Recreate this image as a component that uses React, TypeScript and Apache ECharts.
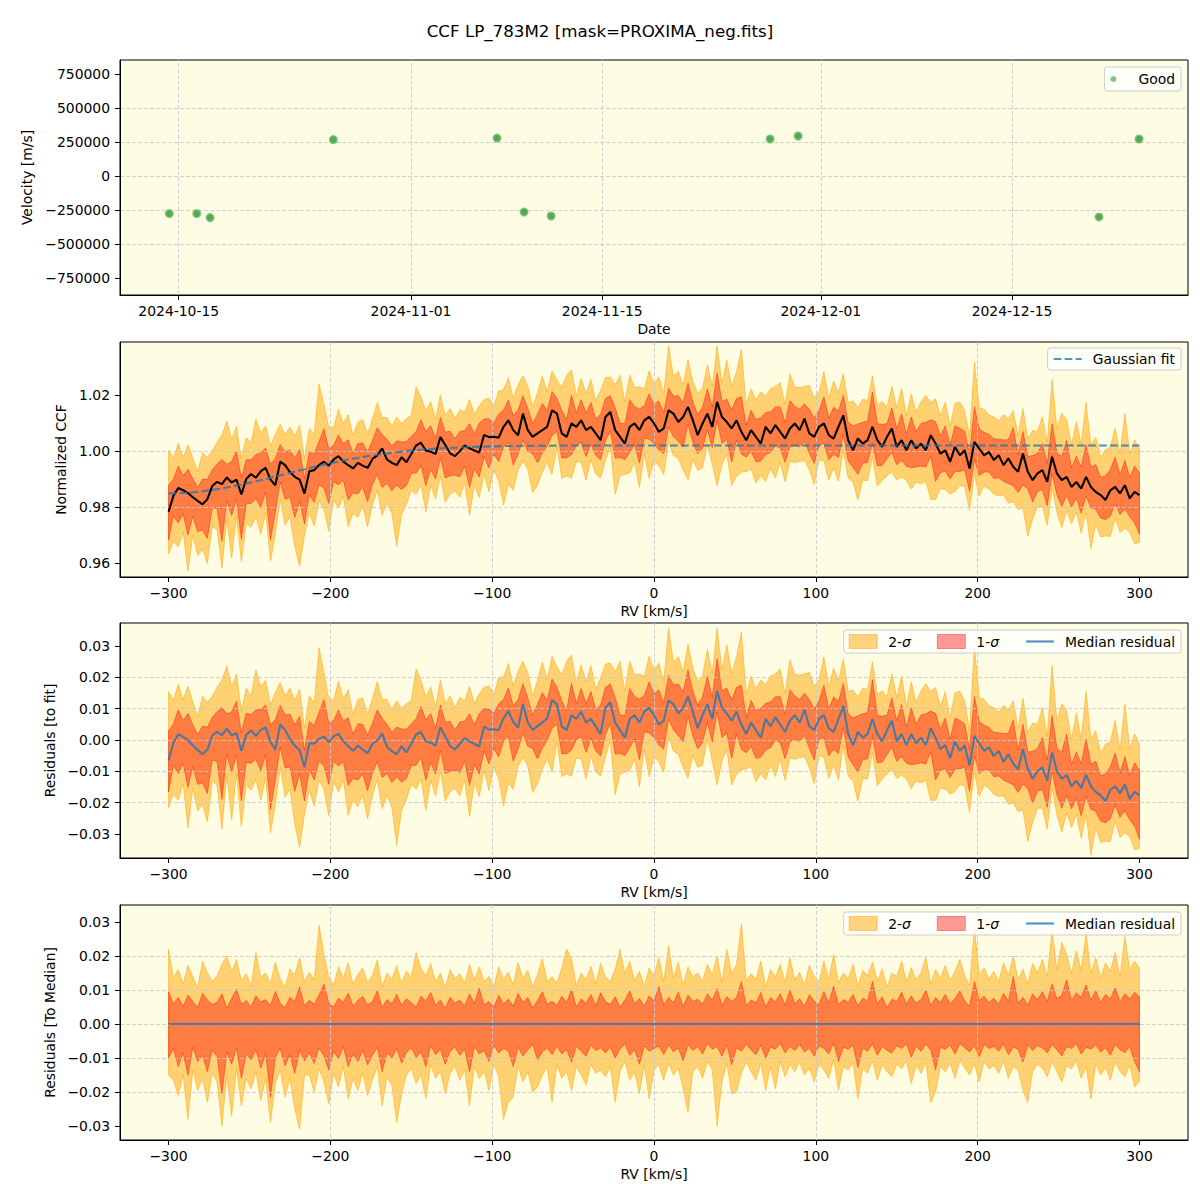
import React, { useEffect, useRef } from 'react';
import * as echarts from 'echarts';

const FONT = '"DejaVu Sans", "Liberation Sans", sans-serif';
const TITLE = 'CCF LP_783M2 [mask=PROXIMA_neg.fits]';

// ---------- Panel 1: velocities ----------
const obsDates = [
  '2024-10-14T07:30:00Z', '2024-10-16T07:40:00Z', '2024-10-17T07:00:00Z', '2024-10-26T07:35:00Z',
  '2024-11-07T07:10:00Z', '2024-11-09T06:45:00Z', '2024-11-11T06:15:00Z', '2024-11-27T07:00:00Z',
  '2024-11-29T08:10:00Z', '2024-12-21T08:50:00Z', '2024-12-24T07:10:00Z',
];
const velocities = [-274000, -274000, -304000, 270000, 281000, -263000, -292000, 274000, 296000, -299000, 274000];
const dateTicks = ['2024-10-15', '2024-11-01', '2024-11-15', '2024-12-01', '2024-12-15'];
const velTicks = [-750000, -500000, -250000, 0, 250000, 500000, 750000];

// ---------- CCF panels (RV grid: -300..300 km/s, 3 km/s step) ----------
const RV_START = -300;
const RV_STEP = 3;
const ccfMedian = [
  0.9783, 0.9840, 0.9868, 0.9860, 0.9850, 0.9835, 0.9822, 0.9810, 0.9828, 0.9875,
  0.9890, 0.9882, 0.9906, 0.9888, 0.9898, 0.9845, 0.9900, 0.9918, 0.9905, 0.9928,
  0.9940, 0.9898, 0.9878, 0.9962, 0.9950, 0.9925, 0.9908, 0.9898, 0.9848, 0.9928,
  0.9932, 0.9950, 0.9962, 0.9948, 0.9970, 0.9982, 0.9962, 0.9950, 0.9938, 0.9958,
  0.9948, 0.9940, 0.9972, 0.9985, 1.0010, 0.9970, 0.9958, 0.9950, 0.9978, 0.9960,
  0.9990, 1.0020, 1.0030, 1.0002, 0.9998, 0.9990, 1.0050, 1.0022, 0.9992, 0.9982,
  1.0000, 1.0020, 1.0010, 1.0002, 0.9995, 1.0058, 1.0050, 1.0051, 1.0048, 1.0087,
  1.0110, 1.0075, 1.0057, 1.0134, 1.0075, 1.0051, 1.0063, 1.0075, 1.0087, 1.0146,
  1.0134, 1.0063, 1.0051, 1.0099, 1.0087, 1.0110, 1.0075, 1.0087, 1.0063, 1.0039,
  1.0122, 1.0140, 1.0075, 1.0051, 1.0027, 1.0087, 1.0099, 1.0075, 1.0110, 1.0122,
  1.0099, 1.0069, 1.0081, 1.0146, 1.0134, 1.0104, 1.0122, 1.0158, 1.0110, 1.0057,
  1.0099, 1.0134, 1.0087, 1.0176, 1.0122, 1.0104, 1.0081, 1.0110, 1.0069, 1.0039,
  1.0075, 1.0051, 1.0027, 1.0087, 1.0063, 1.0093, 1.0069, 1.0045, 1.0081, 1.0099,
  1.0075, 1.0116, 1.0063, 1.0051, 1.0087, 1.0099, 1.0057, 1.0045, 1.0087, 1.0128,
  1.0039, 1.0003, 1.0045, 1.0027, 1.0039, 1.0087, 1.0039, 1.0015, 1.0051, 1.0081,
  1.0015, 1.0039, 1.0003, 1.0039, 1.0009, 1.0027, 1.0003, 1.0057, 1.0027, 0.9991,
  1.0003, 0.9962, 1.0015, 0.9985, 1.0003, 0.9938, 1.0033, 1.0009, 0.9985, 0.9997,
  0.9968, 0.9985, 0.9950, 0.9974, 0.9944, 0.9926, 0.9991, 0.9926, 0.9896, 0.9920,
  0.9932, 0.9890, 0.9980, 0.9920, 0.9896, 0.9908, 0.9872, 0.9890, 0.9866, 0.9908,
  0.9872, 0.9854, 0.9843, 0.9825, 0.9860, 0.9872, 0.9849, 0.9878, 0.9831, 0.9854,
  0.9843,
];
const gaussFit = [
  0.9849, 0.9849, 0.9850, 0.9850, 0.9851, 0.9853, 0.9854, 0.9856, 0.9859, 0.9861,
  0.9864, 0.9867, 0.9870, 0.9873, 0.9877, 0.9880, 0.9884, 0.9888, 0.9892, 0.9896,
  0.9900, 0.9905, 0.9909, 0.9913, 0.9918, 0.9922, 0.9927, 0.9931, 0.9935, 0.9939,
  0.9944, 0.9947, 0.9951, 0.9955, 0.9959, 0.9963, 0.9966, 0.9970, 0.9973, 0.9976,
  0.9979, 0.9982, 0.9985, 0.9987, 0.9990, 0.9992, 0.9994, 0.9996, 0.9998, 1.0000,
  1.0002, 1.0003, 1.0005, 1.0006, 1.0007, 1.0009, 1.0010, 1.0011, 1.0012, 1.0012,
  1.0013, 1.0014, 1.0015, 1.0015, 1.0016, 1.0016, 1.0017, 1.0017, 1.0017, 1.0018,
  1.0018, 1.0018, 1.0018, 1.0019, 1.0019, 1.0019, 1.0019, 1.0019, 1.0019, 1.0019,
  1.0020, 1.0020, 1.0020, 1.0020, 1.0020, 1.0020, 1.0020, 1.0020, 1.0020, 1.0020,
  1.0020, 1.0020, 1.0020, 1.0020, 1.0020, 1.0020, 1.0020, 1.0020, 1.0020, 1.0020,
  1.0020, 1.0020, 1.0020, 1.0020, 1.0020, 1.0020, 1.0020, 1.0020, 1.0020, 1.0020,
  1.0020, 1.0020, 1.0020, 1.0020, 1.0020, 1.0020, 1.0020, 1.0020, 1.0020, 1.0020,
  1.0020, 1.0020, 1.0020, 1.0020, 1.0020, 1.0020, 1.0020, 1.0020, 1.0020, 1.0020,
  1.0020, 1.0020, 1.0020, 1.0020, 1.0020, 1.0020, 1.0020, 1.0020, 1.0020, 1.0020,
  1.0020, 1.0020, 1.0020, 1.0020, 1.0020, 1.0020, 1.0020, 1.0020, 1.0020, 1.0020,
  1.0020, 1.0020, 1.0020, 1.0020, 1.0020, 1.0020, 1.0020, 1.0020, 1.0020, 1.0020,
  1.0020, 1.0020, 1.0020, 1.0020, 1.0020, 1.0020, 1.0020, 1.0020, 1.0020, 1.0020,
  1.0020, 1.0020, 1.0020, 1.0020, 1.0020, 1.0020, 1.0020, 1.0020, 1.0020, 1.0020,
  1.0020, 1.0020, 1.0020, 1.0020, 1.0020, 1.0020, 1.0020, 1.0020, 1.0020, 1.0020,
  1.0020, 1.0020, 1.0020, 1.0020, 1.0020, 1.0020, 1.0020, 1.0020, 1.0020, 1.0020,
  1.0020,
];
// upper / lower offsets of the 1-sigma and 2-sigma envelopes from the median
const hi1 = [
  .0095, .0060, .0078, .0052, .0085, .0066, .0049, .0090, .0071, .0058,
  .0064, .0088, .0047, .0075, .0102, .0058, .0069, .0051, .0083, .0065,
  .0072, .0055, .0096, .0061, .0048, .0079, .0067, .0108, .0054, .0070,
  .0058, .0085, .0118, .0062, .0050, .0076, .0064, .0091, .0053, .0069,
  .0081, .0057, .0066, .0098, .0049, .0072, .0060, .0087, .0055, .0074,
  .0063, .0050, .0082, .0068, .0093, .0056, .0071, .0046, .0079, .0062,
  .0070, .0054, .0088, .0061, .0105, .0057, .0066, .0049, .0084, .0060,
  .0073, .0052, .0090, .0064, .0078, .0047, .0069, .0095, .0058, .0067,
  .0055, .0082, .0063, .0101, .0050, .0074, .0061, .0087, .0053, .0092,
  .0066, .0058, .0080, .0049, .0071, .0097, .0060, .0075, .0052, .0083,
  .0068, .0110, .0057, .0079, .0062, .0094, .0051, .0085, .0066, .0073,
  .0059, .0088, .0070, .0104, .0055, .0081, .0066, .0078, .0125, .0054,
  .0071, .0062, .0093, .0050, .0078, .0065, .0089, .0057, .0099, .0061,
  .0074, .0053, .0086, .0067, .0058, .0095, .0062, .0112, .0056, .0072,
  .0064, .0087, .0052, .0076, .0068, .0125, .0059, .0080, .0048, .0073,
  .0066, .0094, .0058, .0083, .0061, .0072, .0100, .0055, .0078, .0064,
  .0087, .0060, .0075, .0097, .0068, .0052, .0125, .0070, .0082, .0063,
  .0076, .0058, .0090, .0067, .0140, .0061, .0079, .0055, .0088, .0072,
  .0095, .0066, .0118, .0074, .0085, .0130, .0069, .0092, .0078, .0115,
  .0070, .0098, .0063, .0087, .0074, .0106, .0066, .0089, .0075, .0093,
  .0080,
];
const lo1 = [
  .0100, .0072, .0125, .0085, .0150, .0068, .0110, .0092, .0140, .0078,
  .0095, .0205, .0082, .0118, .0070, .0160, .0088, .0105, .0075, .0130,
  .0086, .0215, .0098, .0072, .0122, .0090, .0145, .0076, .0108, .0084,
  .0116, .0070, .0094, .0135, .0080, .0102, .0066, .0125, .0088, .0110,
  .0078, .0120, .0092, .0068, .0140, .0085, .0100, .0072, .0115, .0083,
  .0070, .0098, .0082, .0125, .0064, .0090, .0075, .0118, .0080, .0068,
  .0092, .0074, .0140, .0066, .0088, .0078, .0110, .0062, .0085, .0072,
  .0080, .0125, .0068, .0094, .0076, .0060, .0105, .0082, .0070, .0090,
  .0064, .0088, .0075, .0112, .0066, .0080, .0095, .0062, .0078, .0070,
  .0085, .0068, .0100, .0074, .0058, .0092, .0076, .0118, .0064, .0080,
  .0072, .0065, .0090, .0060, .0082, .0070, .0108, .0062, .0078, .0066,
  .0088, .0058, .0074, .0066, .0095, .0062, .0120, .0070, .0080, .0060,
  .0076, .0090, .0062, .0100, .0068, .0074, .0058, .0085, .0066, .0078,
  .0060, .0082, .0070, .0095, .0064, .0072, .0088, .0056, .0110, .0068,
  .0074, .0062, .0128, .0070, .0080, .0058, .0092, .0066, .0078, .0085,
  .0064, .0072, .0058, .0098, .0066, .0080, .0060, .0076, .0135, .0068,
  .0075, .0062, .0088, .0058, .0070, .0082, .0064, .0096, .0060, .0072,
  .0066, .0080, .0058, .0090, .0068, .0074, .0112, .0062, .0078, .0064,
  .0070, .0085, .0060, .0076, .0094, .0066, .0072, .0058, .0088, .0068,
  .0074, .0062, .0082, .0070, .0092, .0060, .0076, .0084, .0066, .0110,
  .0140,
];
const hi2 = [
  .0220, .0135, .0160, .0118, .0172, .0140, .0105, .0185, .0150, .0126,
  .0142, .0176, .0200, .0155, .0190, .0128, .0148, .0112, .0210, .0138,
  .0150, .0120, .0182, .0134, .0108, .0162, .0145, .0195, .0125, .0152,
  .0130, .0290, .0205, .0140, .0115, .0168, .0136, .0180, .0118, .0146,
  .0165, .0122, .0144, .0188, .0110, .0150, .0132, .0172, .0120, .0156,
  .0138, .0210, .0164, .0142, .0178, .0124, .0150, .0106, .0160, .0134,
  .0148, .0120, .0175, .0130, .0168, .0126, .0140, .0110, .0168, .0132,
  .0152, .0115, .0180, .0136, .0158, .0108, .0146, .0192, .0125, .0140,
  .0120, .0165, .0220, .0192, .0112, .0150, .0130, .0170, .0118, .0178,
  .0140, .0125, .0162, .0220, .0148, .0185, .0128, .0155, .0112, .0165,
  .0142, .0196, .0124, .0230, .0134, .0182, .0115, .0168, .0140, .0150,
  .0126, .0175, .0145, .0200, .0122, .0220, .0150, .0175, .0295, .0128,
  .0148, .0132, .0185, .0110, .0160, .0138, .0176, .0122, .0195, .0130,
  .0152, .0115, .0172, .0140, .0125, .0186, .0132, .0205, .0122, .0150,
  .0135, .0176, .0112, .0158, .0142, .0182, .0126, .0162, .0108, .0150,
  .0140, .0185, .0124, .0166, .0130, .0150, .0196, .0118, .0160, .0136,
  .0172, .0128, .0155, .0190, .0142, .0112, .0285, .0145, .0165, .0132,
  .0155, .0124, .0180, .0142, .0200, .0130, .0162, .0118, .0178, .0150,
  .0190, .0140, .0276, .0160, .0240, .0205, .0150, .0215, .0158, .0267,
  .0150, .0195, .0136, .0180, .0155, .0210, .0140, .0257, .0160, .0185,
  .0165,
];
const lo2 = [
  .0150, .0165, .0210, .0150, .0280, .0135, .0195, .0160, .0230, .0145,
  .0170, .0300, .0150, .0270, .0130, .0240, .0160, .0190, .0140, .0225,
  .0160, .0290, .0175, .0135, .0215, .0160, .0250, .0310, .0150, .0150,
  .0200, .0130, .0170, .0235, .0145, .0185, .0125, .0220, .0160, .0195,
  .0145, .0210, .0165, .0125, .0240, .0155, .0180, .0290, .0205, .0150,
  .0130, .0175, .0150, .0220, .0120, .0160, .0140, .0205, .0145, .0125,
  .0165, .0135, .0240, .0125, .0160, .0140, .0195, .0118, .0155, .0280,
  .0230, .0215, .0125, .0170, .0140, .0200, .0185, .0150, .0128, .0230,
  .0120, .0160, .0140, .0195, .0125, .0150, .0180, .0118, .0145, .0135,
  .0155, .0125, .0230, .0140, .0110, .0165, .0140, .0205, .0120, .0220,
  .0135, .0120, .0165, .0115, .0150, .0130, .0190, .0260, .0140, .0125,
  .0160, .0110, .0135, .0300, .0170, .0115, .0205, .0200, .0145, .0112,
  .0140, .0165, .0115, .0195, .0125, .0190, .0110, .0155, .0120, .0140,
  .0112, .0150, .0130, .0170, .0118, .0135, .0160, .0105, .0195, .0125,
  .0135, .0115, .0220, .0130, .0145, .0108, .0165, .0120, .0140, .0155,
  .0118, .0132, .0108, .0175, .0120, .0145, .0112, .0230, .0200, .0125,
  .0140, .0115, .0160, .0108, .0130, .0150, .0118, .0170, .0110, .0132,
  .0122, .0145, .0108, .0160, .0125, .0135, .0195, .0230, .0140, .0118,
  .0130, .0155, .0112, .0140, .0170, .0122, .0132, .0108, .0160, .0125,
  .0220, .0115, .0150, .0128, .0165, .0112, .0140, .0155, .0120, .0185,
  .0170,
];
const rvTicks = [-300, -200, -100, 0, 100, 200, 300];
const ccfTicks = [0.96, 0.98, 1.0, 1.02];
const resTicks = [-0.03, -0.02, -0.01, 0, 0.01, 0.02, 0.03];

// ---------- styles ----------
const BG = '#fefce3';
const GRID_C = 'rgba(200,200,210,0.85)';
const C2 = 'rgba(255,165,0,0.5)';
const C1 = 'rgba(255,0,0,0.4)';
const BLUE = 'rgba(31,119,180,0.8)';

const fmt = (d: number) => (v: number) => {
  const s = Math.abs(v).toFixed(d);
  return (v < 0 && Number(s) !== 0 ? '\u2212' : '') + s;
};
const dateFmt = (v: number) => new Date(v).toISOString().slice(0, 10);

function axis(o: any) {
  return {
    type: 'value',
    gridIndex: o.grid,
    min: o.min,
    max: o.max,
    ...(o.step ? { minInterval: o.step, maxInterval: o.step } : {}),
    z: 2,
    name: o.name,
    nameLocation: 'middle',
    nameGap: o.gap,
    nameTextStyle: { color: '#000', fontSize: 13.9, fontFamily: FONT },
    axisLine: { show: true, onZero: false, lineStyle: { color: '#000', width: 1 } },
    axisTick: { show: true, length: 5, customValues: o.ticks, lineStyle: { color: '#000', width: 1 } },
    axisLabel: {
      show: true,
      customValues: o.ticks,
      formatter: o.format,
      margin: o.margin,
      color: '#000',
      fontSize: 13.9,
      fontFamily: FONT,
    },
    splitLine: {
      show: o.split !== false,
      showMinLine: false,
      showMaxLine: false,
      lineStyle: { color: GRID_C, width: 1, type: [4, 2] },
    },
  };
}

function legend(top: number, data: any[], extra: any = {}) {
  return {
    top,
    right: 19,
    orient: 'horizontal',
    selectedMode: false,
    data,
    backgroundColor: 'rgba(255,255,255,0.8)',
    borderColor: '#cccccc',
    borderWidth: 1,
    borderRadius: 3,
    padding: [4, 6, 4, 5],
    itemGap: 26,
    itemWidth: 28,
    itemHeight: 14,
    formatter: (n: string) => n.replace('\u03c3', '{s|\u03c3}'),
    textStyle: {
      color: '#000',
      fontSize: 13.9,
      fontFamily: FONT,
      padding: [0, 0, 0, 6],
      rich: { s: { fontStyle: 'italic', fontSize: 13.9, fontFamily: FONT, color: '#000' } },
    },
    ...extra,
  };
}

function buildOption() {
  const rv = ccfMedian.map((_, i) => RV_START + RV_STEP * i);
  const pairs = (arr: number[]) => rv.map((x, i) => [x, arr[i]]);

  const lineS = (g: number, name: string, arr: number[], color: string, z: number, dash?: any) => ({
    type: 'line', name, xAxisIndex: g, yAxisIndex: g, data: pairs(arr),
    symbol: 'none', showSymbol: false, silent: true, z,
    lineStyle: { color, width: 2.1, type: dash || 'solid' },
    itemStyle: { color },
    emphasis: { disabled: true },
  });

  // filled envelope between lower and upper, drawn through the axes' scales
  const bandS = (g: number, name: string, lower: number[], upper: number[], fill: string) => ({
    type: 'custom', name, xAxisIndex: g, yAxisIndex: g, silent: true, z: 1, clip: true,
    data: [[rv[0], lower[0]]],
    encode: { x: 0, y: 1 },
    itemStyle: { color: fill },
    renderItem: (_params: any, api: any) => {
      const pts: number[][] = [];
      for (let i = 0; i < rv.length; i++) pts.push(api.coord([rv[i], upper[i]]));
      for (let i = rv.length - 1; i >= 0; i--) pts.push(api.coord([rv[i], lower[i]]));
      return {
        type: 'polygon',
        shape: { points: pts },
        style: { fill, stroke: fill, lineWidth: 1, lineJoin: 'round' },
      };
    },
  });

  const panel = (g: number, center: number[], medName: string, medColor: string) => [
    bandS(g, '2-\u03c3', center.map((c, i) => c - lo2[i]), center.map((c, i) => c + hi2[i]), C2),
    bandS(g, '1-\u03c3', center.map((c, i) => c - lo1[i]), center.map((c, i) => c + hi1[i]), C1),
    lineS(g, medName, center, medColor, 3),
  ];

  const resFit = ccfMedian.map((c, i) => c - gaussFit[i]);
  const resMed = ccfMedian.map((c) => c - c);

  const dateTickTs = dateTicks.map((d) => Date.parse(d + 'T00:00:00Z'));

  const grids = [60, 342, 623, 905].map((top) => ({
    left: 120, width: 1068, top, height: 235,
    show: true, backgroundColor: BG, borderColor: '#000', borderWidth: 1,
  }));

  const xAxes = [
    axis({
      grid: 0, min: Date.parse('2024-10-10T16:50:00Z'), max: Date.parse('2024-12-27T21:10:00Z'),
      ticks: dateTickTs, format: dateFmt, name: 'Date', gap: 27, margin: 9, split: false,
    }),
    ...[1, 2, 3].map((g) =>
      axis({ grid: g, min: -330, max: 330, step: 100, ticks: rvTicks, format: fmt(0), name: 'RV [km/s]', gap: 27, margin: 9 })
    ),
  ];
  const yAxes = [
    axis({ grid: 0, min: -873000, max: 855000, step: 250000, ticks: velTicks, format: fmt(0), name: 'Velocity [m/s]', gap: 74, margin: 10 }),
    axis({ grid: 1, min: 0.955, max: 1.039, step: 0.02, ticks: ccfTicks, format: fmt(2), name: 'Normalized CCF', gap: 42, margin: 10 }),
    axis({ grid: 2, min: -0.0377, max: 0.0373, step: 0.01, ticks: resTicks, format: fmt(2), name: 'Residuals [to fit]', gap: 56, margin: 10 }),
    axis({ grid: 3, min: -0.0341, max: 0.035, step: 0.01, ticks: resTicks, format: fmt(2), name: 'Residuals [To Median]', gap: 54, margin: 10 }),
  ];

  const series: any[] = [
    {
      type: 'scatter', name: 'Good', xAxisIndex: 0, yAxisIndex: 0, silent: true, z: 3,
      data: obsDates.map((d, i) => [Date.parse(d), velocities[i]]),
      symbolSize: 7,
      itemStyle: { color: '#2b922b', borderColor: '#5fb85f', borderWidth: 2 },
      emphasis: { disabled: true },
      markLine: {
        silent: true, symbol: ['none', 'none'], label: { show: false }, animation: false,
        lineStyle: { color: GRID_C, width: 1, type: [4, 2] },
        emphasis: { disabled: true },
        data: dateTickTs.map((t) => ({ xAxis: t })),
      },
    },
    ...panel(1, ccfMedian, 'Median CCF', '#000000'),
    lineS(1, 'Gaussian fit', gaussFit, BLUE, 4, [7.7, 3.3]),
    ...panel(2, resFit, 'Median residual', BLUE),
    ...panel(3, resMed, 'Median residual', BLUE),
  ];

  const bandLegend = [
    { name: '2-\u03c3', icon: 'rect', itemStyle: { color: C2, borderColor: C2, borderWidth: 1 } },
    { name: '1-\u03c3', icon: 'rect', itemStyle: { color: C1, borderColor: C1, borderWidth: 1 } },
    { name: 'Median residual', itemStyle: { opacity: 0 }, lineStyle: { color: BLUE, width: 2.1 } },
  ];

  return {
    animation: false,
    backgroundColor: '#ffffff',
    textStyle: { fontFamily: FONT },
    graphic: [
      {
        type: 'text', left: 'center', top: 22,
        style: { text: TITLE, fontSize: 16.7, fontFamily: FONT, fill: '#000' },
      },
    ],
    grid: grids,
    xAxis: xAxes,
    yAxis: yAxes,
    legend: [
      legend(67, [{ name: 'Good', icon: 'circle', itemStyle: { color: '#5cb85c', borderWidth: 0 } }], { itemHeight: 6, padding: [5, 6, 5, 6] }),
      legend(348, [{ name: 'Gaussian fit', itemStyle: { opacity: 0 }, lineStyle: { color: BLUE, width: 2.1, type: [7.7, 3.3] } }]),
      legend(630, bandLegend),
      legend(912, bandLegend),
    ],
    series,
  };
}

export default function App() {
  const ref = useRef<HTMLDivElement>(null);
  useEffect(() => {
    if (!ref.current) return;
    const chart = echarts.init(ref.current, null, { renderer: 'svg' });
    chart.setOption(buildOption() as any);
    return () => chart.dispose();
  }, []);
  return (
    <div
      ref={ref}
      style={{ position: 'absolute', left: 0, top: 0, width: 1200, height: 1200, background: '#ffffff' }}
    />
  );
}
